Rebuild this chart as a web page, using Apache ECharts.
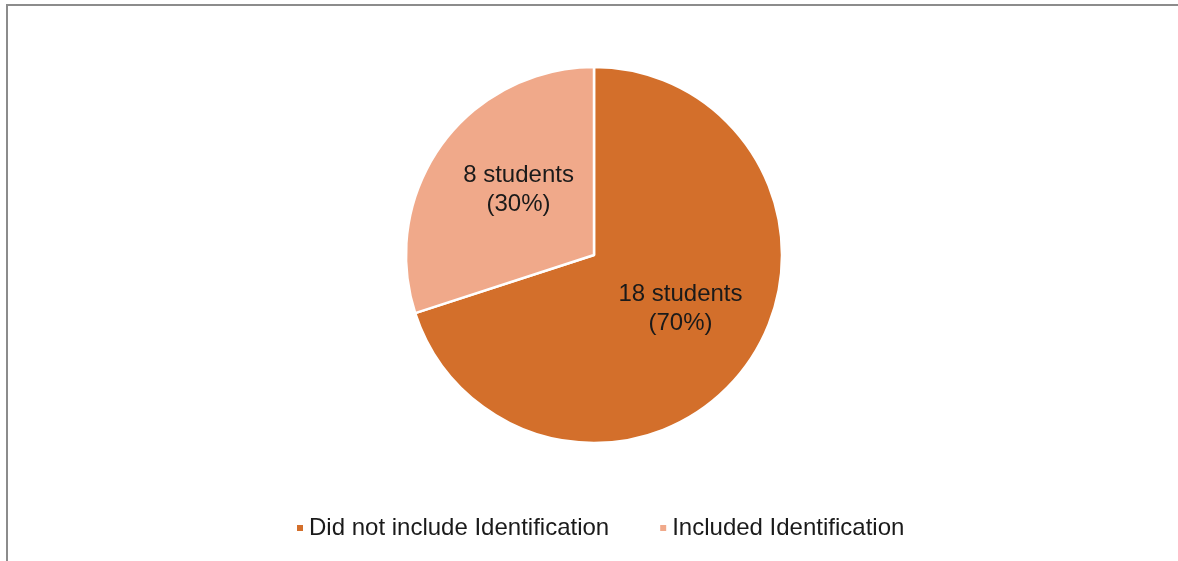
<!DOCTYPE html>
<html>
<head>
<meta charset="utf-8">
<script src="https://cdn.jsdelivr.net/npm/echarts@6/dist/echarts.min.js"></script>
<style>
  html, body { margin: 0; padding: 0; background: #ffffff; }
  #chart { width: 1178px; height: 561px; }
</style>
</head>
<body>
<div id="chart"></div>
<script>
// Student submissions split by whether identification was included
const categories = ['Did not include Identification', 'Included Identification'];
const studentCounts = [18, 8];
const percentShares = [70, 30];
const sliceColors = ['#D36F2B', '#F0A98A'];

const chart = echarts.init(document.getElementById('chart'), null, { renderer: 'canvas' });

const pieData = categories.map((name, i) => ({
  name: name,
  value: percentShares[i],
  students: studentCounts[i],
  itemStyle: { color: sliceColors[i] }
}));

chart.setOption({
  animation: false,
  backgroundColor: '#ffffff',
  graphic: [
    {
      type: 'polyline',
      shape: { points: [[7, 561], [7, 5], [1178, 5]] },
      style: { stroke: '#8c8c8c', lineWidth: 2, fill: null },
      silent: true
    }
  ],
  legend: {
    data: categories,
    left: 295,
    top: 516,
    padding: 0,
    icon: 'rect',
    itemWidth: 8,
    itemHeight: 8,
    itemGap: 49,
    textStyle: {
      fontFamily: 'Liberation Sans, Arial, sans-serif',
      fontSize: 24,
      color: '#1a1a1a'
    }
  },
  series: [
    {
      type: 'pie',
      center: [594, 255],
      radius: [0, 188],
      startAngle: 90,
      clockwise: true,
      avoidLabelOverlap: false,
      itemStyle: { borderColor: '#ffffff', borderWidth: 2.5 },
      label: {
        show: true,
        position: 'inside',
        fontFamily: 'Liberation Sans, Arial, sans-serif',
        fontSize: 24,
        lineHeight: 29,
        color: '#1a1a1a',
        formatter: p => p.data.students + ' students\n(' + p.value + '%)'
      },
      labelLine: { show: false },
      labelLayout: p => (p.dataIndex === 0 ? { dx: 8, dy: -3 } : { dx: 3, dy: -8 }),
      emphasis: { disabled: true },
      data: pieData
    }
  ]
});
</script>
</body>
</html>
